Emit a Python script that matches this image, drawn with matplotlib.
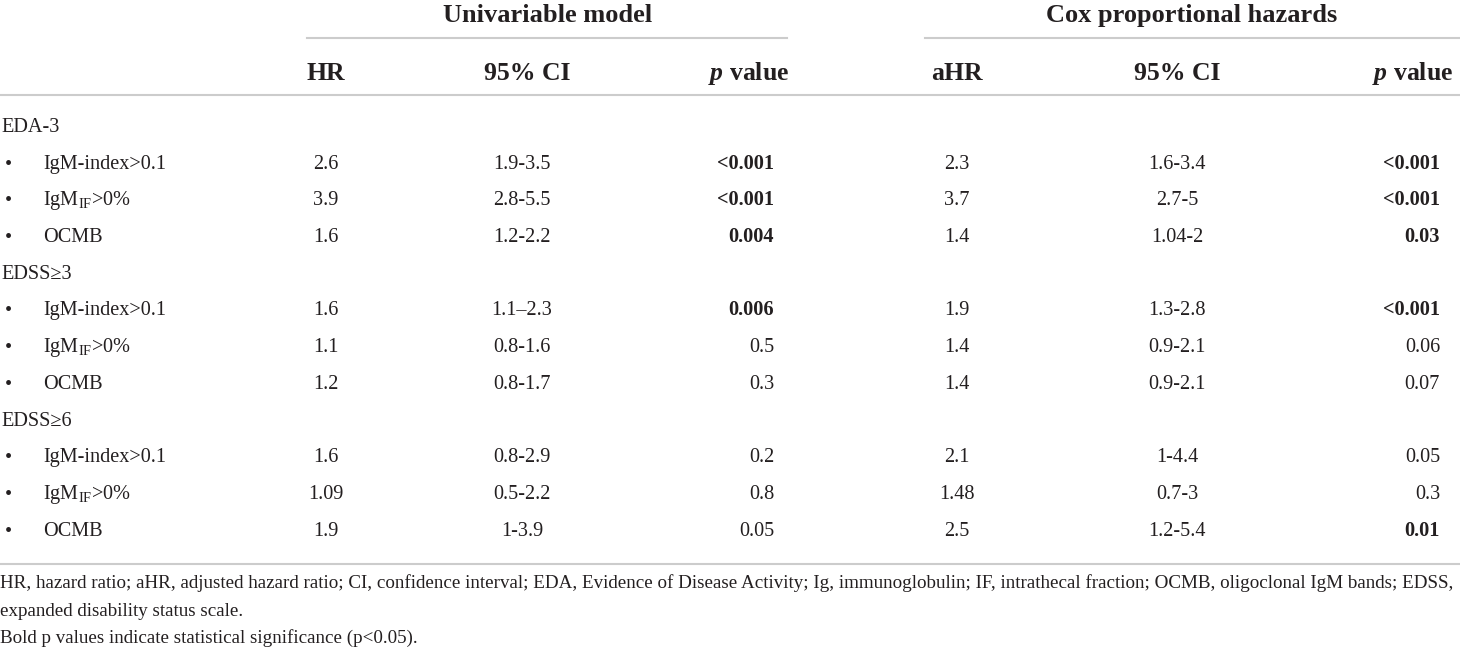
import matplotlib
matplotlib.use("Agg")
import matplotlib.pyplot as plt

plt.rcParams['font.family'] = ['Liberation Serif', 'DejaVu Serif']
plt.rcParams['mathtext.fontset'] = 'custom'
plt.rcParams['mathtext.rm'] = 'Liberation Serif'
plt.rcParams['mathtext.it'] = 'Liberation Serif:italic:bold'

groups = ['EDA-3', 'EDSS≥3', 'EDSS≥6']
items = ['IgM-index>0.1', r'IgM$_{\mathrm{IF}}$>0%', 'OCMB']

uni_hr = [['2.6', '3.9', '1.6'], ['1.6', '1.1', '1.2'], ['1.6', '1.09', '1.9']]
uni_ci = [['1.9-3.5', '2.8-5.5', '1.2-2.2'], ['1.1–2.3', '0.8-1.6', '0.8-1.7'],
          ['0.8-2.9', '0.5-2.2', '1-3.9']]
uni_p = [['<0.001', '<0.001', '0.004'], ['0.006', '0.5', '0.3'], ['0.2', '0.8', '0.05']]
uni_bold = [[True, True, True], [True, False, False], [False, False, False]]

cox_hr = [['2.3', '3.7', '1.4'], ['1.9', '1.4', '1.4'], ['2.1', '1.48', '2.5']]
cox_ci = [['1.6-3.4', '2.7-5', '1.04-2'], ['1.3-2.8', '0.9-2.1', '0.9-2.1'],
          ['1-4.4', '0.7-3', '1.2-5.4']]
cox_p = [['<0.001', '<0.001', '0.03'], ['<0.001', '0.06', '0.07'], ['0.05', '0.3', '0.01']]
cox_bold = [[True, True, True], [True, False, False], [False, False, True]]

footnotes = [
    'HR, hazard ratio; aHR, adjusted hazard ratio; CI, confidence interval; EDA, Evidence of Disease Activity; '
    'Ig, immunoglobulin; IF, intrathecal fraction; OCMB, oligoclonal IgM bands; EDSS,',
    'expanded disability status scale.',
    'Bold p values indicate statistical significance (p<0.05).',
]

W, H = 1460, 656
fig = plt.figure(figsize=(W / 100, H / 100), dpi=100)
ax = fig.add_axes([0, 0, 1, 1])
ax.set_xlim(0, W)
ax.set_ylim(H, 0)
ax.axis('off')

line_col = '#cccccc'
txt = '#231f20'
fs = 14.6
hfs = 18.5

# column x positions (centre for HR / CI, right edge for p)
x_hr, x_ci, x_p, x_ph = 326, 522, 774, 789
x_ahr, x_cci, x_cp, x_cph = 957, 1177, 1440, 1453


def cell(x, y, s, ha, size=fs, weight='normal'):
    ax.text(x, y, s, ha=ha, va='baseline', fontsize=size, fontweight=weight, color=txt)


# group headers
cell(548, 22, 'Univariable model', 'center', 19, 'bold')
cell(1192, 22, 'Cox proportional hazards', 'center', 19, 'bold')
ax.plot([307, 787], [38, 38], color=line_col, lw=1.5)
ax.plot([925, 1460], [38, 38], color=line_col, lw=1.5)

# column headers
hy = 80
cell(x_hr, hy, 'HR', 'center', hfs, 'bold')
cell(527, hy, '95% CI', 'center', hfs, 'bold')
cell(x_ph, hy, r'$\it{p}$ value', 'right', hfs, 'bold')
cell(x_ahr, hy, 'aHR', 'center', hfs, 'bold')
cell(x_cci, hy, '95% CI', 'center', hfs, 'bold')
cell(x_cph, hy, r'$\it{p}$ value', 'right', hfs, 'bold')
ax.plot([0, W], [95, 95], color=line_col, lw=1.5)

# body rows
y = 132
step = 36.7
for g in range(len(groups)):
    cell(1, y, groups[g], 'left')
    y += step
    for i in range(len(items)):
        cell(8, y + 1, '•', 'center')
        cell(43, y, items[i], 'left')
        cell(x_hr, y, uni_hr[g][i], 'center')
        cell(x_ci, y, uni_ci[g][i], 'center')
        cell(x_p, y, uni_p[g][i], 'right', weight='bold' if uni_bold[g][i] else 'normal')
        cell(x_ahr, y, cox_hr[g][i], 'center')
        cell(x_cci, y, cox_ci[g][i], 'center')
        cell(x_cp, y, cox_p[g][i], 'right', weight='bold' if cox_bold[g][i] else 'normal')
        y += step

ax.plot([0, W], [564, 564], color=line_col, lw=1.5)

for k, note in enumerate(footnotes):
    cell(0, 588 + k * 27.5, note, 'left', 13.7)

fig.savefig('out.png', dpi=100, facecolor='white')
